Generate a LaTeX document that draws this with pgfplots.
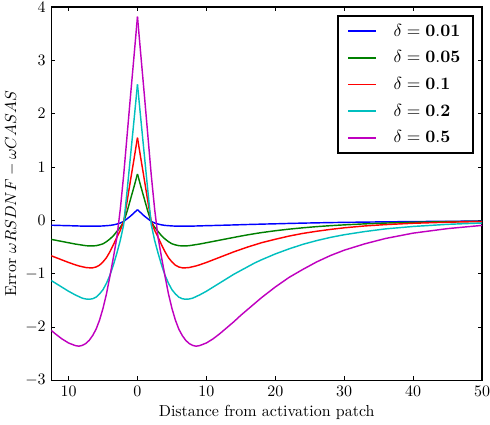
\documentclass[border=0pt]{standalone}
\usepackage{pgfplots}
\usepackage{pgfplotstable}
\pgfplotsset{compat=1.18}
\definecolor{mplblue}{rgb}{0,0,1}
\definecolor{mplgreen}{rgb}{0,0.5,0}
\definecolor{mplred}{rgb}{1,0,0}
\definecolor{mplcyan}{rgb}{0,0.75,0.75}
\definecolor{mplmagenta}{rgb}{0.75,0,0.75}
\pgfplotstableread{
x b g r c m
0 0.20 0.87 1.55 2.55 3.82
0.5 0.14 0.63 1.15 1.88 3.08
1 0.08 0.40 0.76 1.22 2.35
1.5 0.03 0.17 0.36 0.56 1.60
2 -0.02 -0.03 -0.02 -0.08 0.85
2.5 -0.05 -0.13 -0.19 -0.38 0.20
3 -0.07 -0.21 -0.32 -0.62 -0.33
3.5 -0.085 -0.29 -0.46 -0.84 -0.70
4 -0.095 -0.35 -0.59 -1.03 -1.05
4.5 -0.10 -0.40 -0.70 -1.18 -1.38
5 -0.105 -0.44 -0.78 -1.30 -1.65
5.5 -0.108 -0.46 -0.84 -1.38 -1.87
6 -0.11 -0.475 -0.875 -1.44 -2.04
6.5 -0.11 -0.48 -0.89 -1.47 -2.16
7 -0.11 -0.48 -0.89 -1.48 -2.25
7.5 -0.11 -0.475 -0.885 -1.475 -2.31
8 -0.108 -0.465 -0.87 -1.46 -2.345
8.5 -0.106 -0.455 -0.855 -1.43 -2.36
9 -0.104 -0.445 -0.835 -1.40 -2.35
10 -0.10 -0.42 -0.79 -1.33 -2.30
11 -0.097 -0.395 -0.74 -1.25 -2.22
12 -0.093 -0.37 -0.69 -1.17 -2.12
13 -0.09 -0.345 -0.64 -1.09 -2.01
14 -0.086 -0.32 -0.59 -1.01 -1.90
15 -0.082 -0.295 -0.545 -0.94 -1.78
16 -0.078 -0.272 -0.50 -0.87 -1.67
17 -0.075 -0.25 -0.46 -0.80 -1.56
18 -0.071 -0.23 -0.42 -0.74 -1.45
20 -0.065 -0.195 -0.355 -0.63 -1.25
22 -0.058 -0.165 -0.295 -0.535 -1.07
24 -0.052 -0.14 -0.245 -0.45 -0.92
26 -0.047 -0.118 -0.205 -0.38 -0.78
28 -0.042 -0.10 -0.17 -0.32 -0.66
30 -0.038 -0.085 -0.14 -0.27 -0.56
33 -0.033 -0.066 -0.105 -0.21 -0.44
36 -0.028 -0.051 -0.08 -0.16 -0.34
40 -0.023 -0.037 -0.055 -0.115 -0.24
45 -0.018 -0.025 -0.035 -0.075 -0.155
50 -0.014 -0.017 -0.022 -0.05 -0.095
}\data
\begin{document}
\begin{tikzpicture}
\begin{axis}[
  width=270pt, height=234pt, scale only axis,
  xmin=-12.5, xmax=50, ymin=-3, ymax=4,
  xtick={-10,0,10,20,30,40,50},
  xticklabels={10,0,10,20,30,40,50},
  ytick={-3,-2,-1,0,1,2,3,4},
  xticklabel style={inner xsep=0pt},
  yticklabel style={inner ysep=1.2pt},
  tick align=inside, tick pos=both,
  major tick length=2.6pt,
  every tick/.style={black, line width=0.5pt},
  axis line style={line width=0.8pt},
  xlabel={Distance from activation patch},
  ylabel={Error $\omega RSDNF - \omega CASAS$},
  xlabel style={yshift=2pt},
  ylabel style={yshift=-2pt},
  legend style={at={(1,1)}, xshift=-5pt, yshift=-5pt, anchor=north east,
    draw=black, very thick,
    font=\fontsize{11}{13}\selectfont, row sep=3.6pt, inner xsep=6pt, inner ysep=3pt},
  legend cell align=left,
  legend image code/.code={%
    \fill[#1, draw=none] (0cm,-0.5pt) rectangle (0.62cm,0.5pt);},
]
\addplot[color=mplblue, line width=0.9pt] table[x=x, y=b] {\data};
\addlegendentry{\hspace{9pt}$\delta = \mathbf{0.01}$}
\addplot[color=mplgreen, line width=0.9pt] table[x=x, y=g] {\data};
\addlegendentry{\hspace{9pt}$\delta = \mathbf{0.05}$}
\addplot[color=mplred, line width=0.9pt] table[x=x, y=r] {\data};
\addlegendentry{\hspace{9pt}$\delta = \mathbf{0.1}$}
\addplot[color=mplcyan, line width=0.9pt] table[x=x, y=c] {\data};
\addlegendentry{\hspace{9pt}$\delta = \mathbf{0.2}$}
\addplot[color=mplmagenta, line width=0.9pt] table[x=x, y=m] {\data};
\addlegendentry{\hspace{9pt}$\delta = \mathbf{0.5}$}
\addplot[color=mplblue, line width=0.9pt, forget plot] table[x expr=-\thisrow{x}, y=b] {\data};
\addplot[color=mplgreen, line width=0.9pt, forget plot] table[x expr=-\thisrow{x}, y=g] {\data};
\addplot[color=mplred, line width=0.9pt, forget plot] table[x expr=-\thisrow{x}, y=r] {\data};
\addplot[color=mplcyan, line width=0.9pt, forget plot] table[x expr=-\thisrow{x}, y=c] {\data};
\addplot[color=mplmagenta, line width=0.9pt, forget plot] table[x expr=-\thisrow{x}, y=m] {\data};
\end{axis}
\end{tikzpicture}
\end{document}
